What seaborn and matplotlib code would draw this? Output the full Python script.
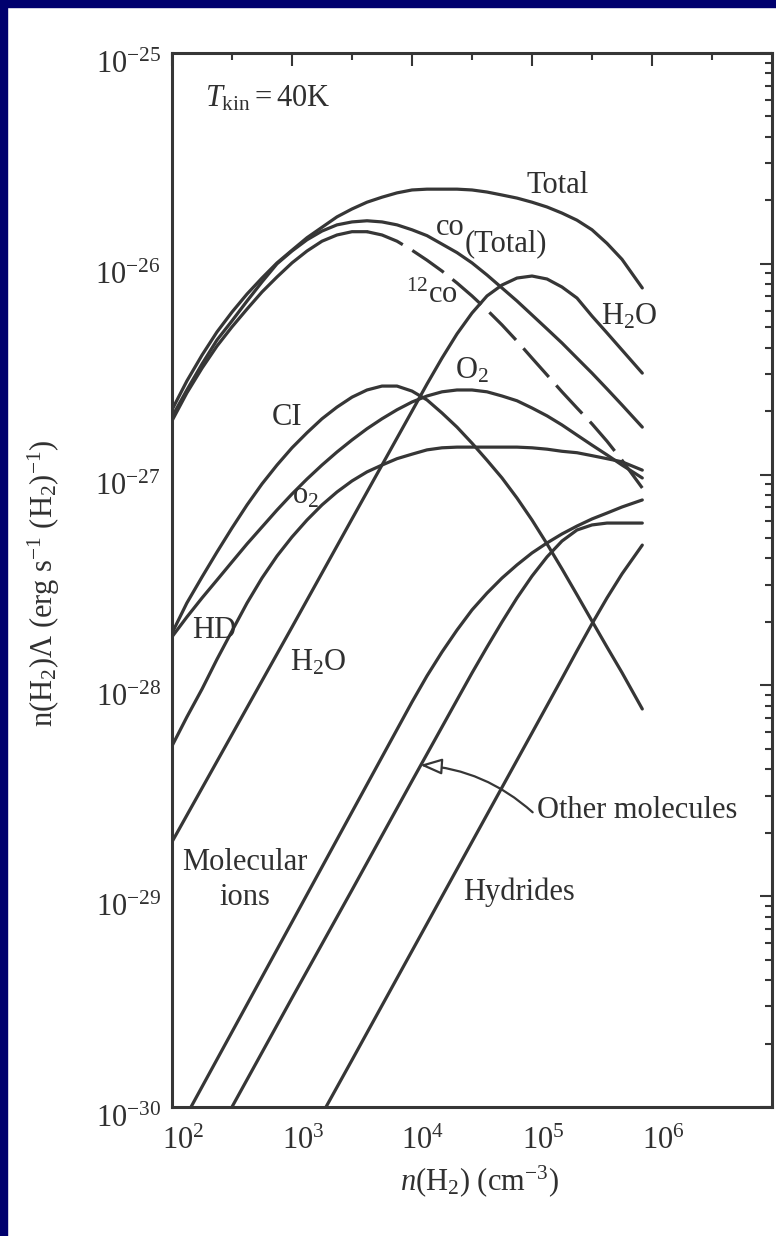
import numpy as np
import matplotlib
matplotlib.use("Agg")
import matplotlib.pyplot as plt
from matplotlib.patches import Rectangle
from matplotlib.ticker import FixedLocator, LogLocator, LogFormatterMathtext, NullFormatter
import matplotlib.transforms as mtransforms
import seaborn as sns

# cooling values are in units of 1e-27 erg s^-1 (H2)^-1
UNIT = 1e-27

# densities n(H2) in cm^-3
n_grid = [100, 133, 178, 237, 316, 422, 562, 750, 1000, 1334, 1778, 2371, 3162,
          4217, 5623, 7499, 1.0e4, 1.334e4, 1.778e4, 2.371e4, 3.162e4, 4.217e4,
          5.623e4, 7.499e4, 1.0e5, 1.334e5, 1.778e5, 2.371e5, 3.162e5, 4.217e5,
          5.623e5, 8.3e5]

total = [2.03, 2.78, 3.69, 4.75, 5.90, 7.19, 8.56, 10.1, 11.6, 13.3, 14.9, 16.7, 18.2,
         19.6, 20.7, 21.7, 22.4, 22.6, 22.6, 22.6, 22.4, 21.9, 21.2, 20.5, 19.6, 18.6,
         17.4, 16.1, 14.5, 12.5, 10.5, 7.68]
co_total = [1.88, 2.52, 3.35, 4.35, 5.36, 6.66, 8.20, 10.0, 11.5, 13.0, 14.3, 15.3, 15.8,
            16.0, 15.8, 15.3, 14.5, 13.6, 12.4, 11.3, 10.1, 8.85, 7.68, 6.66, 5.72, 4.91,
            4.21, 3.57, 3.03, 2.55, 2.14, 1.68]
co12 = [1.80, 2.44, 3.20, 4.07, 5.02, 6.10, 7.35, 8.66, 10.1, 11.5, 12.8, 13.7, 14.2,
        14.2, 13.7, 12.8, 11.6, 10.4, 9.24, 8.11, 7.04, 6.04, 5.13, 4.30, 3.57, 2.97,
        2.47, 2.07, 1.74, 1.44, 1.17, 0.864]
ci = [0.177, 0.246, 0.327, 0.429, 0.558, 0.718, 0.903, 1.11, 1.34, 1.58, 1.84, 2.09, 2.33,
      2.52, 2.63, 2.63, 2.49, 2.26, 1.96, 1.68, 1.41, 1.17, 0.964, 0.774, 0.609, 0.469,
      0.357, 0.269, 0.202, 0.152, 0.115, 0.0773]
o2_upper = [0.170, 0.211, 0.260, 0.316, 0.385, 0.469, 0.564, 0.679, 0.809, 0.953, 1.11,
            1.28, 1.46, 1.65, 1.84, 2.03, 2.21, 2.36, 2.47, 2.52, 2.52, 2.47, 2.36, 2.24,
            2.07, 1.90, 1.72, 1.54, 1.38, 1.24, 1.11, 0.964]
o2_lower = [0.0516, 0.0708, 0.0961, 0.133, 0.181, 0.246, 0.323, 0.411, 0.506, 0.609,
            0.718, 0.827, 0.933, 1.03, 1.11, 1.19, 1.25, 1.31, 1.34, 1.35, 1.35, 1.35,
            1.35, 1.35, 1.34, 1.32, 1.29, 1.27, 1.23, 1.19, 1.15, 1.05]

n_h2o = [100, 1000, 3162, 1.0e4, 1.334e4, 1.778e4, 2.371e4, 3.162e4, 4.217e4, 5.623e4,
         7.499e4, 1.0e5, 1.334e5, 1.778e5, 2.371e5, 3.162e5, 4.217e5, 5.623e5, 8.3e5]
h2o = [0.0181, 0.189, 0.616, 2.00, 2.69, 3.57, 4.65, 5.84, 7.04, 7.93,
       8.56, 8.75, 8.47, 7.76, 6.88, 5.65, 4.70, 3.90, 3.03]

n_ions = [144, 1000, 3162, 1.0e4, 1.334e4, 1.778e4, 2.371e4, 3.162e4, 4.217e4, 5.623e4,
          7.499e4, 1.0e5, 1.334e5, 1.778e5, 2.371e5, 3.162e5, 4.217e5, 5.623e5, 8.3e5]
mol_ions = [0.00100, 0.00754, 0.0251, 0.0834, 0.111, 0.144, 0.183, 0.228, 0.274, 0.323,
            0.373, 0.425, 0.474, 0.523, 0.570, 0.616, 0.657, 0.702, 0.758]

n_other = [316, 1000, 3162, 1.0e4, 1.778e4, 2.371e4, 3.162e4, 4.217e4, 5.623e4,
           7.499e4, 1.0e5, 1.334e5, 1.778e5, 2.371e5, 3.162e5, 4.217e5, 5.623e5, 8.3e5]
other_mol = [0.00100, 0.00329, 0.0107, 0.0352, 0.0635, 0.0853, 0.1145, 0.152, 0.200,
             0.260, 0.330, 0.407, 0.484, 0.546, 0.577, 0.589, 0.589, 0.589]

n_hyd = [1920, 3162, 1.0e4, 3.162e4, 1.0e5, 1.778e5, 2.371e5, 3.162e5, 4.217e5, 5.623e5, 8.3e5]
hydrides = [0.00100, 0.00167, 0.00550, 0.0181, 0.0595, 0.108, 0.146, 0.196, 0.260, 0.338, 0.463]

x_ticks = [1e2, 1e3, 1e4, 1e5, 1e6]
y_ticks = [1e-30, 1e-29, 1e-28, 1e-27, 1e-26, 1e-25]

sns.set_style("white")
plt.rcParams.update({
    "font.family": ["Liberation Serif", "DejaVu Serif"],
    "mathtext.fontset": "custom",
    "mathtext.rm": "Liberation Serif",
    "mathtext.it": "Liberation Serif:italic",
    "mathtext.bf": "Liberation Serif:bold",
})

LINE = "#363636"
TXT = "#303030"
NAVY = "#00006e"
FS = 22

fig = plt.figure(figsize=(7.76, 12.36), dpi=100, facecolor="white")
ax = fig.add_axes([172 / 776, 1 - 1107 / 1236, 600 / 776, 1054 / 1236])
ax.set_xscale("log")
ax.set_yscale("log")
ax.set_facecolor("white")


def draw(n, vals, **kw):
    sns.lineplot(x=np.asarray(n, float), y=np.asarray(vals, float) * UNIT, ax=ax,
                 color=LINE, lw=2.3, estimator=None, sort=False, legend=False, **kw)


draw(n_grid, total)
draw(n_grid, co_total)
# 12CO: drawn solid where it runs alongside CO(Total), dashed after it splits away
split = 13
draw(n_grid[:split + 1], co12[:split + 1])
draw(n_grid[split:], co12[split:], linestyle=(0, (12, 3.5)))
draw(n_grid, ci)
draw(n_grid, o2_upper)
draw(n_grid, o2_lower)
draw(n_h2o, h2o)
draw(n_ions, mol_ions)
draw(n_other, other_mol)
draw(n_hyd, hydrides)

ax.set_xlim(1e2, 1e7)
ax.set_ylim(1e-30, 1e-25)

ax.xaxis.set_major_locator(FixedLocator(x_ticks))
ax.xaxis.set_major_formatter(LogFormatterMathtext())
ax.xaxis.set_minor_locator(FixedLocator([10 ** (k + 0.5) for k in range(2, 7)]))
ax.xaxis.set_minor_formatter(NullFormatter())
ax.yaxis.set_major_locator(FixedLocator(y_ticks))
ax.yaxis.set_major_formatter(LogFormatterMathtext())
ax.yaxis.set_minor_locator(LogLocator(base=10, subs=np.arange(2, 10), numticks=30))
ax.yaxis.set_minor_formatter(NullFormatter())

ax.tick_params(which="both", direction="in", top=True, right=True,
               color=LINE, width=1.5)
ax.tick_params(which="major", length=9)
ax.tick_params(which="minor", length=5)
ax.tick_params(axis="both", which="major", labelsize=FS, labelcolor=TXT)
ax.tick_params(axis="x", pad=12)
ax.tick_params(axis="y", pad=8)
for s in ax.spines.values():
    s.set_linewidth(2.2)
    s.set_color(LINE)

ax.set_xlabel(r"$n$(H$_2$) (cm$^{-3}$)", fontsize=FS, color=TXT)
ax.xaxis.set_label_coords(0.512, -0.053)
ax.set_ylabel(r"n(H$_2$)$\Lambda$ (erg s$^{-1}$ (H$_2$)$^{-1}$)", fontsize=FS, color=TXT)
ax.yaxis.set_label_coords(-0.183, 0.497)

tk = dict(fontsize=FS, color=TXT, va="baseline")
ax.text(0.055, 0.949, r"$T_{\rm kin}$$=$40K", transform=ax.transAxes, ha="left", **tk)
ax.text(9.08e4, 2.17e-26, "Total", ha="left", **tk)
ax.text(1.58e4, 1.37e-26, "co", ha="left", **tk)
ax.text(2.77e4, 1.15e-26, "(Total)", ha="left", **tk)
ax.text(8.91e3, 6.52e-27, r"$^{12}$co", ha="left", **tk)
ax.text(3.76e5, 5.13e-27, r"H$_2$O", ha="left", **tk)
ax.text(2.28e4, 2.87e-27, r"O$_2$", ha="left", **tk)
ax.text(681, 1.72e-27, "CI", ha="left", **tk)
ax.text(1000, 7.33e-28, r"o$_2$", ha="left", **tk)
ax.text(147, 1.68e-28, "HD", ha="left", **tk)
ax.text(962, 1.18e-28, r"H$_2$O", ha="left", **tk)
ax.text(406, 1.33e-29, "Molecular", ha="center", **tk)
ax.text(406, 9.08e-30, "ions", ha="center", **tk)
ax.text(2.66e4, 9.59e-30, "Hydrides", ha="left", **tk)
ax.annotate("Other molecules", xy=(1.17e4, 4.19e-29), xytext=(1.10e5, 2.35e-29),
            ha="left", va="baseline", fontsize=FS, color=TXT,
            arrowprops=dict(arrowstyle="-|>,head_length=0.6,head_width=0.22",
                            color=LINE, lw=1.6, fc="white",
                            connectionstyle="arc3,rad=0.18", relpos=(0, 0.3),
                            shrinkA=1, shrinkB=0))

# shift tick labels slightly, as in the printed figure
yoff = mtransforms.ScaledTranslation(0, -9 / 100, fig.dpi_scale_trans)
for t in ax.yaxis.get_major_ticks():
    t.label1.set_transform(t.label1.get_transform() + yoff)
xoff = mtransforms.ScaledTranslation(11 / 100, -3 / 100, fig.dpi_scale_trans)
for t in ax.xaxis.get_major_ticks():
    t.label1.set_transform(t.label1.get_transform() + xoff)

# slide border strips
fig.patches.append(Rectangle((0, 1 - 7 / 1236), 1, 7 / 1236, transform=fig.transFigure,
                             color=NAVY, zorder=10))
fig.patches.append(Rectangle((0, 0), 7 / 776, 1, transform=fig.transFigure,
                             color=NAVY, zorder=10))

fig.savefig("out.png", dpi=100, facecolor="white")
